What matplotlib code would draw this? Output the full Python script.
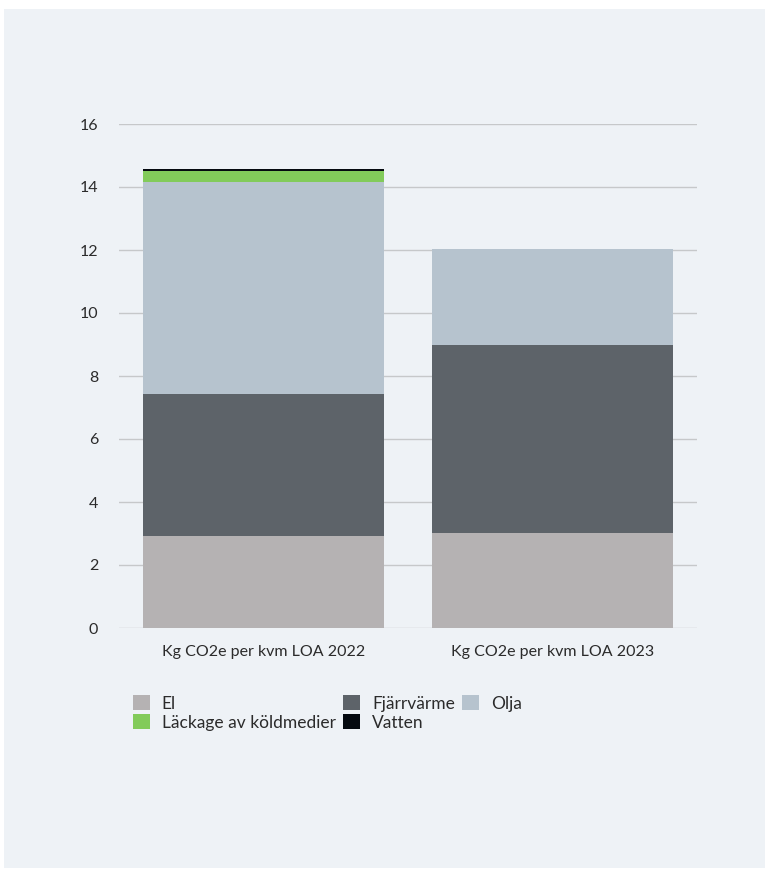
import numpy as np
import matplotlib
matplotlib.use('Agg')
from matplotlib import pyplot as plt
from matplotlib.patches import Rectangle, Patch

plt.rcParams['font.family'] = ['Lato', 'DejaVu Sans']

# data
categories = ['Kg CO2e per kvm LOA 2022', 'Kg CO2e per kvm LOA 2023']
el = [2.92, 3.02]
fjarrvarme = [4.51, 5.96]
olja = [6.73, 3.05]
lackage = [0.35, 0.0]
vatten = [0.06, 0.0]

series = [
    ('El', el, '#b5b2b3'),
    ('Fjärrvärme', fjarrvarme, '#5d6369'),
    ('Olja', olja, '#b6c3ce'),
    ('Läckage av köldmedier', lackage, '#82cb5a'),
    ('Vatten', vatten, '#050a10'),
]

bg = '#eef2f6'
fig = plt.figure(figsize=(7.65, 8.69), dpi=100, facecolor='white')
# light panel behind the chart
fig.patches.append(Rectangle((4 / 765, 1 / 869), 1 - 4 / 765, 1 - 10 / 869,
                             transform=fig.transFigure, facecolor=bg,
                             edgecolor='none', zorder=-10))

ax = fig.add_axes([119 / 765, 1 - 628 / 869, (697 - 119) / 765, (628 - 124) / 869])
ax.set_facecolor('none')

x = np.arange(len(categories))
bottom = np.zeros(len(categories))
handles = {}
for name, vals, color in series:
    vals = np.array(vals)
    ax.bar(x, vals, bottom=bottom, width=0.835, color=color, zorder=3)
    bottom += vals
    handles[name] = Patch(facecolor=color, edgecolor='none')

ax.set_xlim(-0.5, 1.5)
ax.set_ylim(0, 16)
ax.set_yticks(range(0, 17, 2))
ax.set_xticks(x)
ax.set_xticklabels(categories, fontsize=11.5, color='#2b2b2b')
ax.tick_params(axis='y', length=0, pad=15, labelsize=11.5, labelcolor='#2b2b2b')
ax.tick_params(axis='x', length=0, pad=12)
for lbl in ax.get_yticklabels():
    lbl.set_horizontalalignment('right')
ax.grid(axis='y', color='#c6c8ca', linewidth=1, zorder=0)
for s in ax.spines.values():
    s.set_visible(False)

# legend fills column by column
order = ['El', 'Läckage av köldmedier', 'Fjärrvärme', 'Vatten', 'Olja']
fig.legend([handles[n] for n in order], order, ncol=3, loc='upper left',
           bbox_to_anchor=(128 / 765, 1 - 690 / 869), frameon=False,
           fontsize=12.5, labelcolor='#2b2b2b', handlelength=0.95, handleheight=0.95,
           handletextpad=0.7, columnspacing=0.43, labelspacing=0.15,
           borderaxespad=0, borderpad=0.3)

fig.savefig('out.png', dpi=100, facecolor='white')
